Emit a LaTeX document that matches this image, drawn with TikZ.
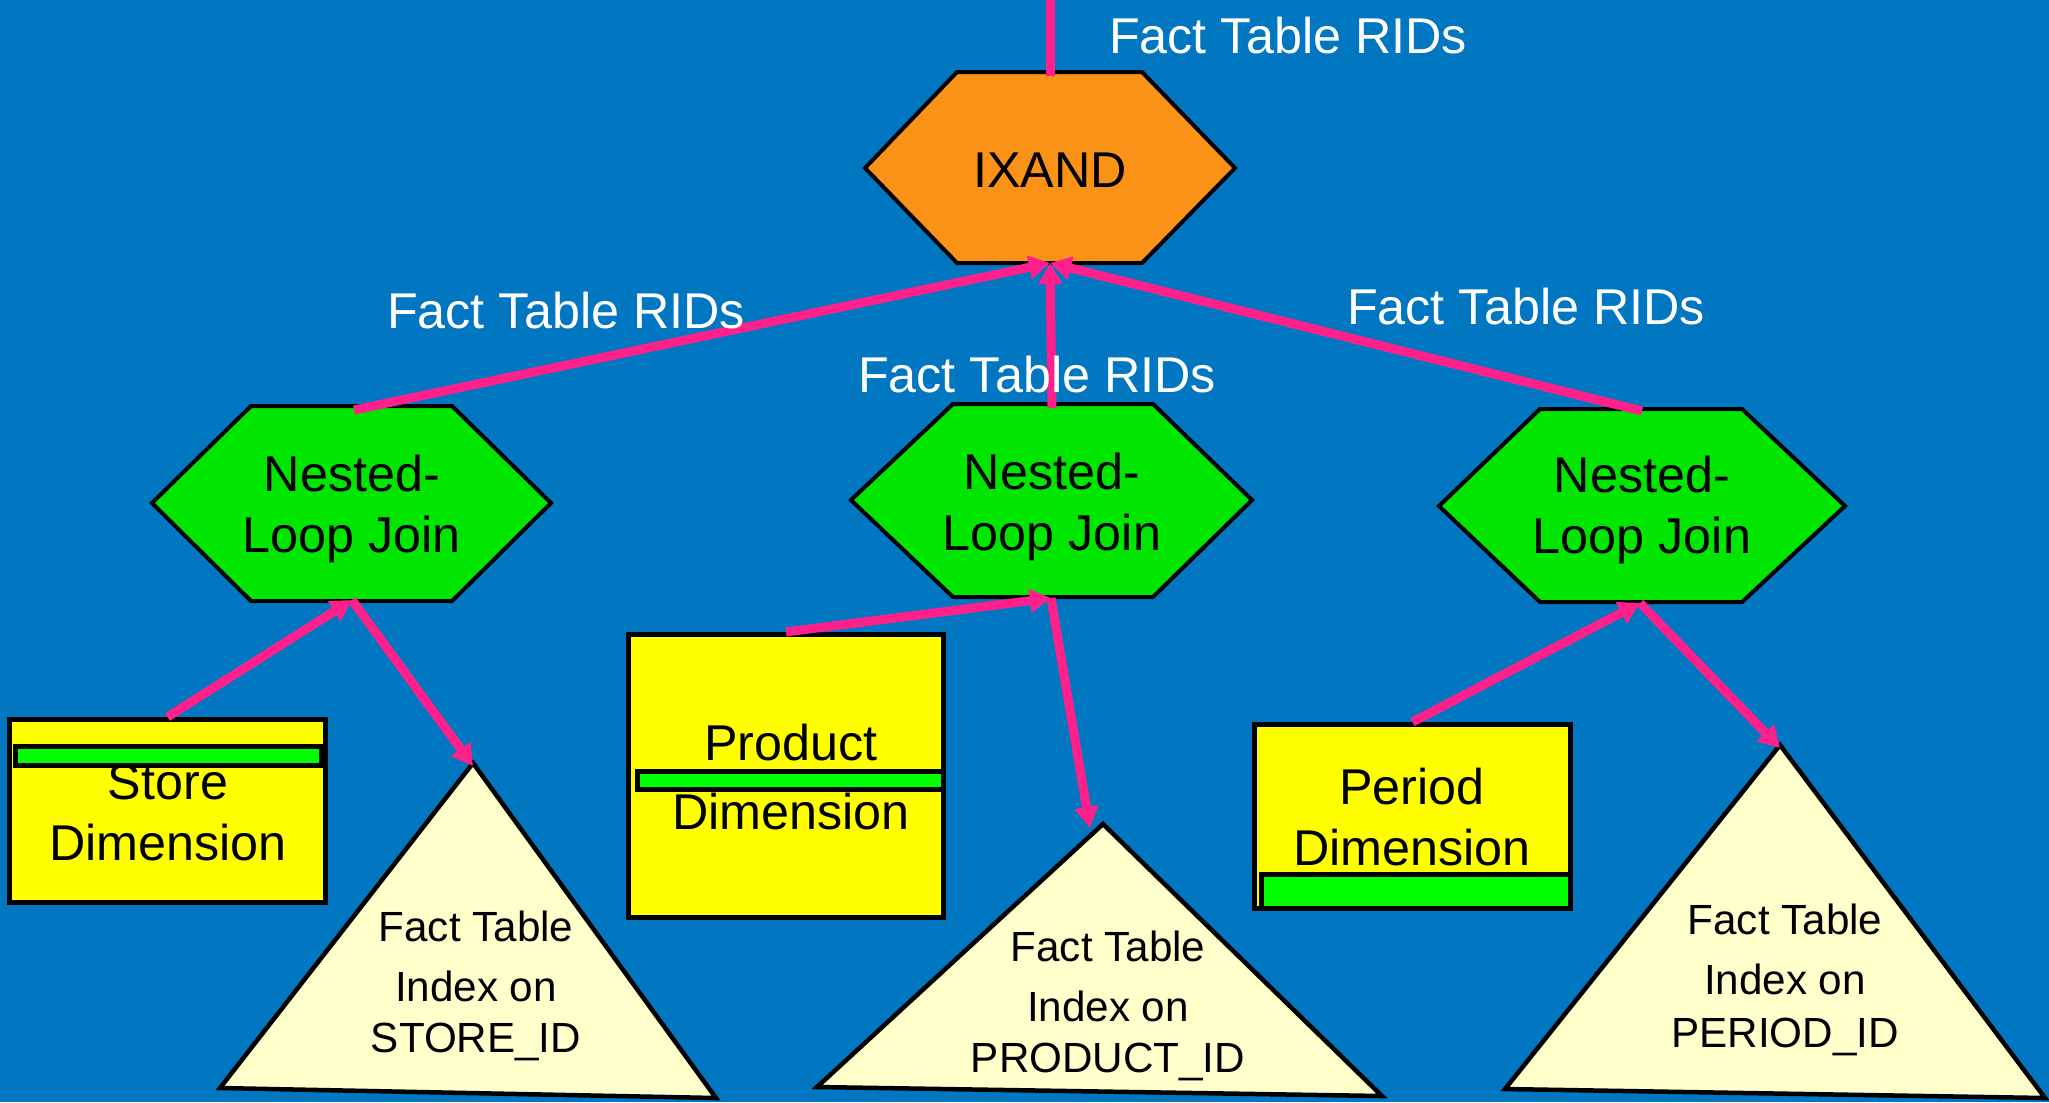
\documentclass[tikz,border=0pt]{standalone}
\usepackage{fontspec}
\setmainfont{Liberation Sans}
\usetikzlibrary{arrows.meta}
\definecolor{bg}{RGB}{0,119,192}
\definecolor{pinkline}{RGB}{255,32,140}
\definecolor{orng}{RGB}{250,146,24}
\definecolor{hexgreen}{RGB}{0,230,0}
\definecolor{bargreen}{RGB}{0,255,0}
\definecolor{dimyellow}{RGB}{255,255,0}
\definecolor{idxyellow}{RGB}{255,255,204}
\begin{document}
\begin{tikzpicture}[x=0.01cm,y=-0.01cm,
  bigtext/.style={font=\fontsize{14.3}{17.1}\selectfont, align=center, inner sep=0pt, anchor=base},
  smalltext/.style={font=\fontsize{12}{17.1}\selectfont, align=center, inner sep=0pt, anchor=base},
  ridlabel/.style={bigtext, text=white},
  hexshape/.style={draw=black, line width=0.04cm, line join=miter},
  dimbox/.style={draw=black, fill=dimyellow, line width=0.05cm, inner sep=0pt},
  keybar/.style={draw=black, fill=bargreen, line width=0.05cm},
  idxtri/.style={draw=black, fill=idxyellow, line width=0.045cm, line join=miter},
  flow/.style={draw=pinkline, line width=0.09cm, -{Triangle[length=6pt,width=6.5pt]}},
  feed/.style={draw=pinkline, line width=0.09cm}]
\useasboundingbox (0,0) rectangle (2049,1102);
\fill[bg] (0,0) rectangle (2049,1102);

% hexagons
\draw[hexshape, fill=orng] (865,168) -- (957,72) -- (1142,72) -- (1235,168) -- (1142,263) -- (957,263) -- cycle;
\draw[hexshape, fill=hexgreen] (152,503) -- (251,406) -- (452,406) -- (551,503) -- (452,601) -- (251,601) -- cycle;
\draw[hexshape, fill=hexgreen] (851,500) -- (953,404) -- (1153,404) -- (1252,500) -- (1153,597) -- (953,597) -- cycle;
\draw[hexshape, fill=hexgreen] (1439,506) -- (1540,409) -- (1742,409) -- (1845,506) -- (1742,602) -- (1540,602) -- cycle;

% (base anchor of a multi-line node = baseline of its last line)
\node[bigtext] (ixand) at (1050,187) {IXAND};
\node[bigtext] (nlj1) at (352,552) {Nested-\\Loop Join};
\node[bigtext] (nlj2) at (1052,550) {Nested-\\Loop Join};
\node[bigtext] (nlj3) at (1642,553) {Nested-\\Loop Join};

% dimension boxes
\node[dimbox, minimum width=3.16cm, minimum height=1.83cm] (store) at (167.5,811) {};
\node[dimbox, minimum width=3.15cm, minimum height=2.83cm] (product) at (786,776) {};
\node[dimbox, minimum width=3.16cm, minimum height=1.84cm] (period) at (1412.5,816.5) {};
\node[bigtext] (storetxt) at (168,860) {Store\\Dimension};
\node[bigtext] (prodtxt) at (791,829) {Product\\[2.5pt]Dimension};
\node[bigtext] (pertxt) at (1412,865) {Period\\Dimension};
\draw[keybar] (15.5,746.5) rectangle (321,765.5);
\draw[keybar] (637.5,771.5) rectangle (943.5,789.5);
\draw[keybar] (1261.5,874.5) rectangle (1570.5,908.5);

% index triangles
\draw[idxtri] (473,763) -- (716,1098) -- (220,1088) -- cycle;
\draw[idxtri] (1103,824) -- (1382,1096) -- (817,1087) -- cycle;
\draw[idxtri] (1780,745) -- (2045,1098) -- (1505,1089) -- cycle;
\node[smalltext] (idx1) at (476,1052) {Fact Table\\Index on\\[-2.8pt]STORE\_ID};
\node[smalltext] (idx2) at (1108,1072) {Fact Table\\Index on\\[-2.8pt]PRODUCT\_ID};
\node[smalltext] (idx3) at (1785,1047) {Fact Table\\Index on\\[-2.2pt]PERIOD\_ID};

% connector ends
\coordinate (topin) at (1050,0);
\coordinate (ixandN) at (1050,76);
\coordinate (ixandS) at (1050,263);
\coordinate (lhN) at (354,410);
\coordinate (lhS) at (352,600);
\coordinate (mhN) at (1052,408);
\coordinate (mhS) at (1051,598);
\coordinate (rhN) at (1642,411);
\coordinate (rhS) at (1640,603);
\coordinate (idx1top) at (473,766);
\coordinate (idx2top) at (1090,828);
\coordinate (idx3top) at (1780,748);

% connectors
\draw[feed] (topin) -- (ixandN);
\draw[flow] (lhN) -- (ixandS);
\draw[flow] (mhN) -- (ixandS);
\draw[flow] (rhN) -- (ixandS);
\draw[flow] (store.north) -- (lhS);
\draw[flow] (lhS) -- (idx1top);
\draw[flow] (product.north) -- (mhS);
\draw[flow] (mhS) -- (idx2top);
\draw[flow] (period.north) -- (rhS);
\draw[flow] (rhS) -- (idx3top);

% labels
\node[ridlabel] (ridtop) at (1288,53) {Fact Table RIDs};
\node[ridlabel] (ridleft) at (566,328) {Fact Table RIDs};
\node[ridlabel] (ridmid) at (1037,392) {Fact Table RIDs};
\node[ridlabel] (ridright) at (1526,324) {Fact Table RIDs};
\end{tikzpicture}
\end{document}
